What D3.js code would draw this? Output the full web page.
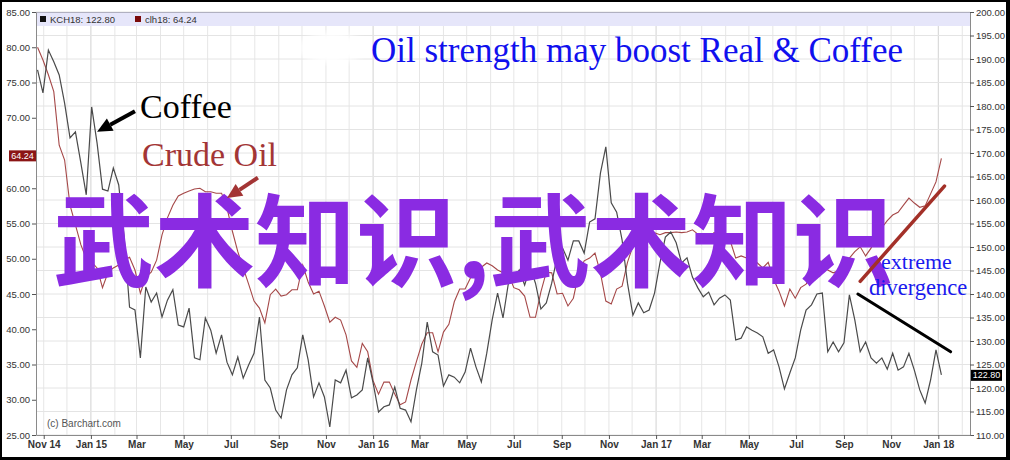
<!DOCTYPE html>
<html><head><meta charset="utf-8">
<script src="https://cdn.jsdelivr.net/npm/d3@7"></script>
<style>html,body{margin:0;padding:0;background:#fff}svg{display:block}</style>
</head><body><svg id="c" width="1010" height="460"></svg>
<script>
const weeks = ["2014-10-24","2014-10-31","2014-11-07","2014-11-14","2014-11-21","2014-11-28","2014-12-05","2014-12-12","2014-12-19","2014-12-26",
"2015-01-02","2015-01-09","2015-01-16","2015-01-23","2015-01-30","2015-02-06","2015-02-13","2015-02-20","2015-02-27","2015-03-06","2015-03-13","2015-03-20","2015-03-27","2015-04-03","2015-04-10","2015-04-17","2015-04-24","2015-05-01","2015-05-08","2015-05-15","2015-05-22","2015-05-29","2015-06-05","2015-06-12","2015-06-19","2015-06-26","2015-07-03","2015-07-10","2015-07-17","2015-07-24","2015-07-31","2015-08-07","2015-08-14","2015-08-21","2015-08-28","2015-09-04","2015-09-11","2015-09-18","2015-09-25","2015-10-02","2015-10-09","2015-10-16","2015-10-23","2015-10-30","2015-11-06","2015-11-13","2015-11-20","2015-11-27","2015-12-04","2015-12-11","2015-12-18","2015-12-25",
"2016-01-01","2016-01-08","2016-01-15","2016-01-22","2016-01-29","2016-02-05","2016-02-12","2016-02-19","2016-02-26","2016-03-04","2016-03-11","2016-03-18","2016-03-25","2016-04-01","2016-04-08","2016-04-15","2016-04-22","2016-04-29","2016-05-06","2016-05-13","2016-05-20","2016-05-27","2016-06-03","2016-06-10","2016-06-17","2016-06-24","2016-07-01","2016-07-08","2016-07-15","2016-07-22","2016-07-29","2016-08-05","2016-08-12","2016-08-19","2016-08-26","2016-09-02","2016-09-09","2016-09-16","2016-09-23","2016-09-30","2016-10-07","2016-10-14","2016-10-21","2016-10-28","2016-11-04","2016-11-11","2016-11-18","2016-11-25","2016-12-02","2016-12-09","2016-12-16","2016-12-23","2016-12-30",
"2017-01-06","2017-01-13","2017-01-20","2017-01-27","2017-02-03","2017-02-10","2017-02-17","2017-02-24","2017-03-03","2017-03-10","2017-03-17","2017-03-24","2017-03-31","2017-04-07","2017-04-14","2017-04-21","2017-04-28","2017-05-05","2017-05-12","2017-05-19","2017-05-26","2017-06-02","2017-06-09","2017-06-16","2017-06-23","2017-06-30","2017-07-07","2017-07-14","2017-07-21","2017-07-28","2017-08-04","2017-08-11","2017-08-18","2017-08-25","2017-09-01","2017-09-08","2017-09-15","2017-09-22","2017-09-29","2017-10-06","2017-10-13","2017-10-20","2017-10-27","2017-11-03","2017-11-10","2017-11-17","2017-11-24","2017-12-01","2017-12-08","2017-12-15","2017-12-22","2017-12-29",
"2018-01-05"];

// Coffee (KCH18) weekly close, right axis
const coffee = [187.7,182.8,191.9,189.4,186.6,180.6,173.2,174.5,167.9,161.1,
179.8,172.1,162.3,161.9,166.8,163.2,152.1,137.2,136.6,126.4,
141.5,138.3,140.2,135.1,138.7,140.9,133.4,133.0,137.0,126.4,
126.0,134.9,132.3,127.4,131.3,125.5,122.8,126.6,122.1,124.9,
127.4,135.1,121.7,120.0,115.3,113.6,119.6,122.8,124.3,131.3,
126.0,118.1,121.1,118.1,111.7,121.7,121.1,123.8,117.9,118.5,
119.6,126.4,121.1,114.9,116.0,116.4,120.2,115.7,115.3,112.8,
119.6,125.3,134.0,127.7,127.0,120.4,122.8,122.3,121.1,123.4,
128.5,124.5,121.3,127.4,134.5,140.2,134.9,142.3,143.0,145.1,
141.9,145.7,142.3,136.8,138.1,142.3,147.9,149.8,147.2,151.3,
151.3,148.7,155.3,156.0,165.7,171.3,159.4,157.4,151.5,142.3,
135.5,138.1,136.0,136.6,140.2,146.6,152.1,153.2,150.9,146.6,
147.7,143.6,141.3,139.4,140.4,137.7,139.1,139.8,138.7,130.2,
130.6,133.0,132.3,131.7,130.9,127.4,128.1,124.5,119.8,123.2,
126.4,132.3,136.6,137.7,140.0,140.2,127.7,129.8,127.7,129.6,
139.8,134.5,127.7,129.8,126.4,125.3,126.4,124.0,127.4,123.8,
124.5,127.4,123.8,119.6,116.8,121.7,128.1,122.8];

// Crude oil (clh18) weekly close, left axis
const crude = [80.0,78.2,76.1,73.7,66.1,64.0,57.6,54.8,52.0,50.0,
49.5,48.7,45.9,48.0,48.7,49.1,49.8,50.2,48.4,45.1,
47.4,48.1,49.8,53.4,55.8,57.6,58.9,59.3,59.6,59.9,
60.0,59.5,59.5,59.3,59.3,57.2,53.9,51.0,48.7,46.4,
44.0,43.0,40.9,44.9,45.7,44.7,44.9,45.6,45.6,49.1,
46.7,45.0,45.4,43.3,41.0,41.7,41.3,39.2,35.5,34.6,
38.0,36.8,32.7,30.8,32.5,32.5,30.8,29.3,29.7,32.8,
35.4,37.9,39.5,39.5,36.8,39.6,40.7,43.9,45.7,45.7,
47.3,48.1,48.8,49.4,49.0,48.4,48.0,47.8,45.9,45.6,
44.7,41.7,41.7,45.3,48.1,48.0,45.0,45.1,43.3,44.4,
48.0,49.7,50.1,50.8,48.0,44.0,43.6,45.7,46.1,49.5,
51.8,53.1,53.8,53.8,53.7,53.4,53.7,53.7,53.8,53.7,
53.8,54.1,53.5,53.1,53.1,53.7,53.5,53.4,52.5,50.1,
50.4,50.1,50.0,49.4,48.7,49.5,47.1,45.4,43.3,45.7,
44.4,45.9,46.4,47.6,50.1,49.4,48.4,48.0,48.3,49.1,
50.1,51.0,51.7,50.4,51.5,53.2,54.4,55.4,56.2,56.6,
57.6,58.6,57.9,57.3,57.5,59.2,60.9,64.24];

const tickDates = ["2014-11-01","2015-01-01","2015-03-01","2015-05-01","2015-07-01","2015-09-01","2015-11-01","2016-01-01","2016-03-01","2016-05-01","2016-07-01","2016-09-01","2016-11-01","2017-01-01","2017-03-01","2017-05-01","2017-07-01","2017-09-01","2017-11-01","2018-01-01"];
const tickLabels = ["Nov 14","Jan 15","Mar","May","Jul","Sep","Nov","Jan 16","Mar","May","Jul","Sep","Nov","Jan 17","Mar","May","Jul","Sep","Nov","Jan 18"];
const leftTicks = [25,30,35,40,45,50,55,60,65,70,75,80,85];
const rightTicks = [110,115,120,125,130,135,140,145,150,155,160,165,170,175,180,185,190,195,200];
const legendItems = [{name:"KCH18", last:"122.80", color:"#111"},{name:"clh18", last:"64.24", color:"#7a0a0a"}];
// annotation trend lines in data coordinates
const oilTrend = [["2017-09-22",46.8],["2018-01-09",60.3]];
const coffeeTrend = [["2017-09-19",140.0],["2018-01-17",127.7]];
const coffeeArrow = [["2015-02-27",178.9],["2015-01-09",174.5]];
const oilArrow = [["2015-08-05",61.5],["2015-06-26",58.6]];

const W=1010,H=460;
const m={l:36,r:970,t:12,b:435};
const parse=d3.utcParse("%Y-%m-%d");
const dates=weeks.map(parse);
const svg=d3.select("#c");
const x=d3.scaleUtc().domain([parse("2014-10-22"),parse("2018-02-11")]).range([m.l,m.r]);
const yL=d3.scaleLinear().domain([25,85]).range([m.b,m.t]);
const yR=d3.scaleLinear().domain([110,200]).range([m.b,m.t]);
const AX="'Liberation Sans',Arial,sans-serif";
const SERIF="'Liberation Serif','Times New Roman',serif";
const lastOil=crude[crude.length-1], lastCof=coffee[coffee.length-1];

svg.append("rect").attr("width",W).attr("height",H).attr("fill","#000");
svg.append("rect").attr("x",2).attr("y",2).attr("width",W-6).attr("height",H-5).attr("fill","#fff");

const defs=svg.append("defs");
defs.append("clipPath").attr("id","pc").append("rect").attr("x",m.l).attr("y",m.t).attr("width",m.r-m.l).attr("height",m.b-m.t);
defs.append("filter").attr("id","blur").append("feGaussianBlur").attr("stdDeviation",3);

// grid
const months=d3.utcMonth.range(parse("2014-11-01"),parse("2018-02-02"));
svg.append("g").selectAll("line").data(months).join("line")
  .attr("x1",d=>x(d)).attr("x2",d=>x(d)).attr("y1",m.t).attr("y2",m.b)
  .attr("stroke",d=>d.getUTCMonth()===0?"#d2d2d2":"#e6e6e6").attr("stroke-width",1);
svg.append("g").selectAll("line").data(rightTicks).join("line")
  .attr("x1",m.l).attr("x2",m.r).attr("y1",d=>yR(d)).attr("y2",d=>yR(d))
  .attr("stroke","#e4e4e4").attr("stroke-width",1);

// legend bar
svg.append("rect").attr("x",m.l).attr("y",m.t).attr("width",m.r-m.l).attr("height",14).attr("fill","#e6e6fa");
svg.append("line").attr("x1",m.l).attr("x2",m.r).attr("y1",m.t+0.5).attr("y2",m.t+0.5).attr("stroke","#b0b0c0");
let lx=40;
legendItems.forEach(d=>{
  svg.append("rect").attr("x",lx).attr("y",16).attr("width",6).attr("height",6).attr("fill",d.color);
  svg.append("text").attr("x",lx+10).attr("y",22.5).attr("font-family",AX).attr("font-size",9.5).attr("fill","#333")
    .text(d.name+": "+d.last);
  lx+=95;
});

// white patch
svg.append("ellipse").attr("cx",332).attr("cy",48).attr("rx",32).attr("ry",15).attr("fill","#fff").attr("filter","url(#blur)");

// series
const g=svg.append("g").attr("clip-path","url(#pc)");
g.append("path").attr("d",d3.line().x((d,i)=>x(dates[i])).y(d=>yL(d))(crude))
  .attr("fill","none").attr("stroke","#a54848").attr("stroke-width",1.1);
g.append("path").attr("d",d3.line().x((d,i)=>x(dates[i])).y(d=>yR(d))(coffee))
  .attr("fill","none").attr("stroke","#4a4a4a").attr("stroke-width",1.2);

// axes
function styleAxis(sel,bold){
  sel.select(".domain").attr("stroke","#8a8a8a");
  sel.selectAll(".tick line").attr("stroke","#555");
  sel.selectAll("text").attr("font-family",AX).attr("fill","#333").attr("font-size",bold?10:9.5).attr("font-weight",bold?"bold":"normal");
}
// the left tick label hidden behind the last-value tag is left blank
const hideL = v => Math.abs(yL(v)-yL(lastOil))<8;
svg.append("g").attr("transform",`translate(${m.l},0)`)
  .call(d3.axisLeft(yL).tickValues(leftTicks).tickFormat(d=>hideL(d)?"":d3.format(".2f")(d)).tickSize(4).tickSizeOuter(0).tickPadding(2))
  .call(s=>styleAxis(s,false));
svg.append("g").attr("transform",`translate(${m.r},0)`)
  .call(d3.axisRight(yR).tickValues(rightTicks).tickFormat(d3.format(".2f")).tickSize(4).tickSizeOuter(0).tickPadding(2))
  .call(s=>styleAxis(s,false));
svg.append("g").attr("transform",`translate(0,${m.b})`)
  .call(d3.axisBottom(x).tickValues(tickDates.map(parse)).tickFormat((d,i)=>tickLabels[i]).tickSize(4).tickSizeOuter(0).tickPadding(2))
  .call(s=>styleAxis(s,true));

svg.append("text").attr("x",47).attr("y",427).attr("font-family",AX).attr("font-size",10).attr("fill","#555").text("(c) Barchart.com");

// last-value tags
svg.append("rect").attr("x",9).attr("y",yL(lastOil)-8).attr("width",27).attr("height",11).attr("fill","#8b1515");
svg.append("text").attr("x",22.5).attr("y",yL(lastOil)+0.5).attr("text-anchor","middle").attr("font-family",AX).attr("font-size",9).attr("fill","#fff").text(lastOil.toFixed(2));
svg.append("rect").attr("x",971).attr("y",yR(lastCof)-5).attr("width",31).attr("height",11).attr("fill","#000");
svg.append("text").attr("x",986.5).attr("y",yR(lastCof)+3.5).attr("text-anchor","middle").attr("font-family",AX).attr("font-size",9).attr("fill","#fff").text(lastCof.toFixed(2));

// Chinese overlay text
svg.append("text").attr("x",53).attr("y",279).attr("font-family","'Noto Sans CJK SC',sans-serif").attr("font-weight",700)
  .attr("font-size",101).attr("fill","#8a2be2").text("武术知识,武术知识");

// annotations
function arrow(pts,yS,color,w){
  const [x1,y1]=[x(parse(pts[0][0])),yS(pts[0][1])];
  const [x2,y2]=[x(parse(pts[1][0])),yS(pts[1][1])];
  const a=Math.atan2(y2-y1,x2-x1), L=15, hw=7;
  const bx=x2-L*Math.cos(a), by=y2-L*Math.sin(a);
  svg.append("line").attr("x1",x1).attr("y1",y1).attr("x2",bx).attr("y2",by).attr("stroke",color).attr("stroke-width",w);
  svg.append("polygon").attr("points",[[x2,y2],[bx+hw*Math.sin(a),by-hw*Math.cos(a)],[bx-hw*Math.sin(a),by+hw*Math.cos(a)]].map(p=>p.join(",")).join(" ")).attr("fill",color);
}
arrow(coffeeArrow,yR,"#000",4);
arrow(oilArrow,yL,"#a33535",4);

svg.append("line").attr("x1",x(parse(oilTrend[0][0]))).attr("y1",yL(oilTrend[0][1])).attr("x2",x(parse(oilTrend[1][0]))).attr("y2",yL(oilTrend[1][1]))
  .attr("stroke","#a33028").attr("stroke-width",3.5).attr("stroke-linecap","round");
svg.append("line").attr("x1",x(parse(coffeeTrend[0][0]))).attr("y1",yR(coffeeTrend[0][1])).attr("x2",x(parse(coffeeTrend[1][0]))).attr("y2",yR(coffeeTrend[1][1]))
  .attr("stroke","#000").attr("stroke-width",3).attr("stroke-linecap","round");

svg.append("text").attr("x",371).attr("y",62).attr("font-family",SERIF).attr("font-size",35).attr("fill","#1010ee").text("Oil strength may boost Real & Coffee");
svg.append("text").attr("x",140).attr("y",118).attr("font-family",SERIF).attr("font-size",34).attr("fill","#000").text("Coffee");
svg.append("text").attr("x",142).attr("y",166).attr("font-family",SERIF).attr("font-size",34).attr("fill","#a33535").text("Crude Oil");
svg.append("text").attr("x",881).attr("y",269).attr("font-family",SERIF).attr("font-size",22).attr("fill","#1a1aee").text("extreme");
svg.append("text").attr("x",869).attr("y",295).attr("font-family",SERIF).attr("font-size",22.5).attr("fill","#1a1aee").text("divergence");
</script>
</body></html>
